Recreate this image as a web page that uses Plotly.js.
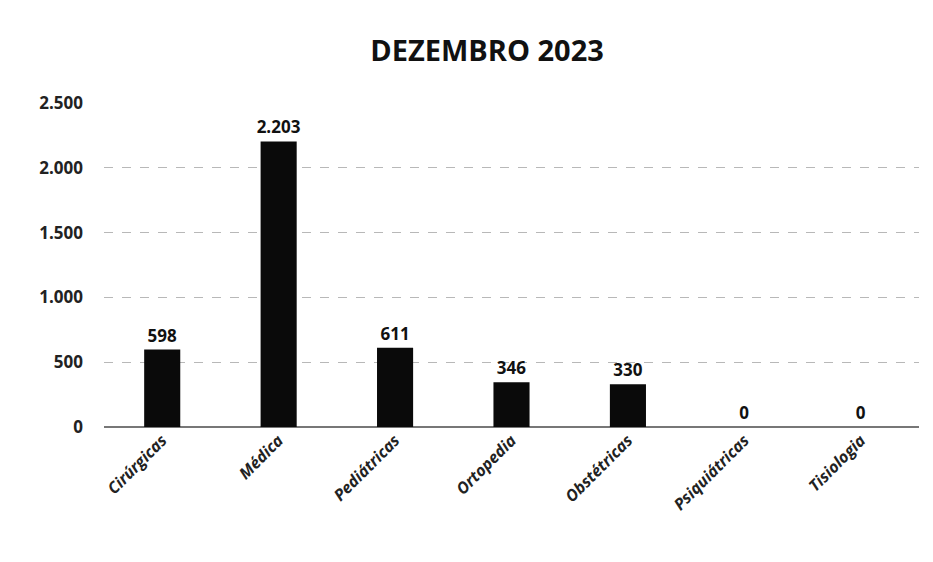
<!DOCTYPE html>
<html><head><meta charset="utf-8">
<script src="https://cdn.plot.ly/plotly-3.0.1.min.js"></script>
<style>html,body{margin:0;padding:0;background:#fff}#chart{width:933px;height:562px}</style>
</head><body><div id="chart"></div>
<script>
const categories = ["Cirúrgicas","Médica","Pediátricas","Ortopedia","Obstétricas","Psiquiátricas","Tisiologia"];
const values = [598, 2203, 611, 346, 330, 0, 0];
const valueLabels = ["598","2.203","611","346","330","0","0"];
const tickVals = [0, 500, 1000, 1500, 2000, 2500];
const tickText = ["0","500","1.000","1.500","2.000","2.500"];

const trace = {
  type: "bar",
  x: categories,
  y: values,
  text: valueLabels,
  textposition: "outside",
  constraintext: "none",
  cliponaxis: false,
  textfont: {family: "Open Sans, Liberation Sans, sans-serif", size: 17, color: "#111", weight: "bold"},
  marker: {color: "#0a0a0a"},
  hoverinfo: "none"
};
const layout = {
  width: 933, height: 562,
  margin: {l: 104, r: 14, t: 103, b: 135},
  paper_bgcolor: "#fff", plot_bgcolor: "#fff",
  bargap: 0.69,
  showlegend: false,
  title: {text: "<b>DEZEMBRO 2023</b>", x: 0.522, xanchor: "center", y: 0.91, yanchor: "middle",
          font: {family: "Open Sans, Liberation Sans, sans-serif", size: 29, color: "#111"}},
  xaxis: {
    tickangle: -45, showgrid: false, zeroline: false, ticks: "",
    showline: false,
    tickfont: {family: "Open Sans, Liberation Sans, sans-serif", size: 16, color: "#222", style: "italic", weight: "bold"}
  },
  yaxis: {
    range: [0, 2500], tickvals: tickVals, ticktext: tickText,
    showgrid: true, gridcolor: "#b8b8b8", gridwidth: 1, griddash: "dash",
    zeroline: true, zerolinecolor: "#777", zerolinewidth: 1.5,
    ticks: "", ticklabelstandoff: 20,
    tickfont: {family: "Open Sans, Liberation Sans, sans-serif", size: 17, color: "#222", weight: "bold"}
  }
};
Plotly.newPlot("chart", [trace], layout, {staticPlot: true, displayModeBar: false});
</script></body></html>
